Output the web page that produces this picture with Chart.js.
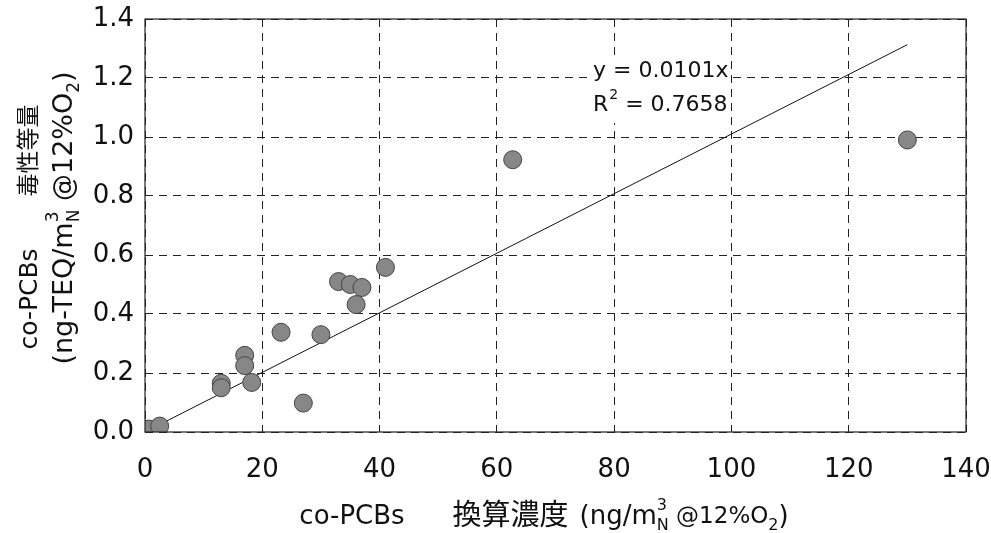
<!DOCTYPE html>
<html>
<head>
<meta charset="utf-8">
<script src="https://cdn.jsdelivr.net/npm/chart.js@4.4.1/dist/chart.umd.min.js"></script>
<style>
    html, body { margin: 0; padding: 0; background: #fff; }
    #wrap { width: 991px; height: 533px; position: relative; }
</style>
</head>
<body>
<div id="wrap"><canvas id="pcbChart"></canvas></div>
<script>
// measured points (x: 換算濃度, y: 毒性等量)
const concX = [0.6, 2.5, 13, 13, 17, 17, 18.2, 23.2, 27, 30, 33, 35, 37, 36, 41, 62.7, 130];
const teqY  = [0.01, 0.02, 0.165, 0.15, 0.26, 0.225, 0.168, 0.338, 0.098, 0.33, 0.51, 0.50, 0.49, 0.432, 0.558, 0.923, 0.99];

// trend line y = slope * x
const slope = 0.0101;
const r2 = 0.7658;
const trendX = [0, 130];

const xTicks = [0, 20, 40, 60, 80, 100, 120, 140];
const yTicks = [0.0, 0.2, 0.4, 0.6, 0.8, 1.0, 1.2, 1.4];

const latinFont = "'DejaVu Sans', 'Noto Sans CJK JP', sans-serif";

// text with superscript / subscript parts
function partWidth(ctx, p, size) {
    if (p.gap) return p.gap;
    if (p.stack) {
        ctx.font = Math.round(size * 0.62) + 'px ' + latinFont;
        return Math.max(ctx.measureText(p.sup).width, ctx.measureText(p.sub).width);
    }
    ctx.font = (p.s ? Math.round(size * 0.62) : (p.size || size)) + 'px ' + latinFont;
    return ctx.measureText(p.t).width;
}

function drawRich(ctx, parts, cx, cy, size) {
    let w = 0;
    for (const p of parts) w += partWidth(ctx, p, size);
    let x = cx - w / 2;
    ctx.textBaseline = 'middle';
    ctx.textAlign = 'left';
    for (const p of parts) {
        const pw = partWidth(ctx, p, size);
        if (p.stack) {
            ctx.fillText(p.sup, x, cy - size * 0.42);
            ctx.fillText(p.sub, x, cy + size * 0.34);
        } else if (p.s) {
            ctx.fillText(p.t, x, cy + size * 0.34);
        } else if (p.t) {
            ctx.fillText(p.t, x, cy);
        }
        x += pw;
    }
}

const xTitleParts = [
    {t: 'co-PCBs'}, {gap: 48}, {t: '換算濃度', size: 29}, {gap: 11}, {t: '(ng/m'},
    {stack: true, sup: '3', sub: 'N'}, {t: ' @12%O', size: 23}, {t: '2', s: true}, {t: ')'}
];
const yTitle1 = [{t: 'co-PCBs', size: 25}, {gap: 52}, {t: '毒性等量', size: 23}];
const yTitle2 = [
    {t: '(ng-TEQ/m'}, {stack: true, sup: '3', sub: 'N'},
    {t: ' @12%O'}, {t: '2', s: true}, {t: ')'}
];

const decorPlugin = {
    id: 'decor',
    afterDraw(chart) {
        const ctx = chart.ctx;
        const a = chart.chartArea;
        ctx.save();
        ctx.setLineDash([]);
        ctx.strokeStyle = '#222';
        ctx.lineWidth = 1.2;
        ctx.strokeRect(a.left, a.top, a.right - a.left, a.bottom - a.top);

        ctx.fillStyle = '#111';
        // axis titles
        drawRich(ctx, xTitleParts, 544, 517, 26);
        ctx.save();
        ctx.translate(30, 227);
        ctx.rotate(-Math.PI / 2);
        drawRich(ctx, yTitle1, 0, 0, 25);
        ctx.restore();
        ctx.save();
        ctx.translate(65, 218);
        ctx.rotate(-Math.PI / 2);
        drawRich(ctx, yTitle2, 0, 0, 27);
        ctx.restore();
        ctx.restore();

        // equation label
        ctx.save();
        const ex = 593;
        ctx.textBaseline = 'middle';
        ctx.textAlign = 'left';
        ctx.fillStyle = '#fff';
        ctx.fillRect(ex - 4, 57, 142, 66);
        ctx.fillStyle = '#111';
        ctx.font = '22px ' + latinFont;
        ctx.fillText('y = ' + slope.toFixed(4) + 'x', ex, 71);
        ctx.fillText('R', ex, 105);
        const rw = ctx.measureText('R').width;
        ctx.font = '14px ' + latinFont;
        ctx.fillText('2', ex + rw + 1, 95);
        const sw = ctx.measureText('2').width;
        ctx.font = '22px ' + latinFont;
        ctx.fillText(' = ' + r2.toFixed(4), ex + rw + sw + 1, 105);
        ctx.restore();
    }
};

new Chart(document.getElementById('pcbChart'), {
    type: 'scatter',
    data: {
        datasets: [{
            label: 'co-PCBs',
            data: concX.map((x, i) => ({x: x, y: teqY[i]})),
            backgroundColor: '#878787',
            borderColor: '#444',
            borderWidth: 1,
            pointRadius: 9,
            order: 1
        }, {
            label: 'trend',
            type: 'line',
            data: trendX.map(x => ({x: x, y: slope * x})),
            borderColor: '#111',
            borderWidth: 1,
            pointRadius: 0,
            fill: false,
            order: 2
        }]
    },
    options: {
        responsive: true,
        maintainAspectRatio: false,
        animation: false,
        layout: { padding: 0 },
        plugins: {
            legend: { display: false },
            tooltip: { enabled: false }
        },
        scales: {
            x: {
                type: 'linear',
                min: 0,
                max: 140,
                afterBuildTicks: s => { s.ticks = xTicks.map(v => ({value: v})); },
                afterFit: s => { s.height = 101; s.paddingLeft = 0; s.paddingRight = 25; },
                grid: { color: '#222', lineWidth: 1, drawTicks: false },
                border: { display: false, dash: [8, 6] },
                ticks: {
                    color: '#111',
                    padding: 23,
                    font: { family: latinFont, size: 26 },
                    callback: v => String(v)
                }
            },
            y: {
                min: 0,
                max: 1.4,
                afterBuildTicks: s => { s.ticks = yTicks.map(v => ({value: v})); },
                afterFit: s => { s.width = 145; s.paddingTop = 19; s.paddingBottom = 0; },
                grid: { color: '#222', lineWidth: 1, drawTicks: false },
                border: { display: false, dash: [8, 6] },
                ticks: {
                    color: '#111',
                    padding: 11,
                    font: { family: latinFont, size: 26 },
                    callback: v => Number(v).toFixed(1)
                }
            }
        }
    },
    plugins: [decorPlugin]
});
</script>
</body>
</html>
